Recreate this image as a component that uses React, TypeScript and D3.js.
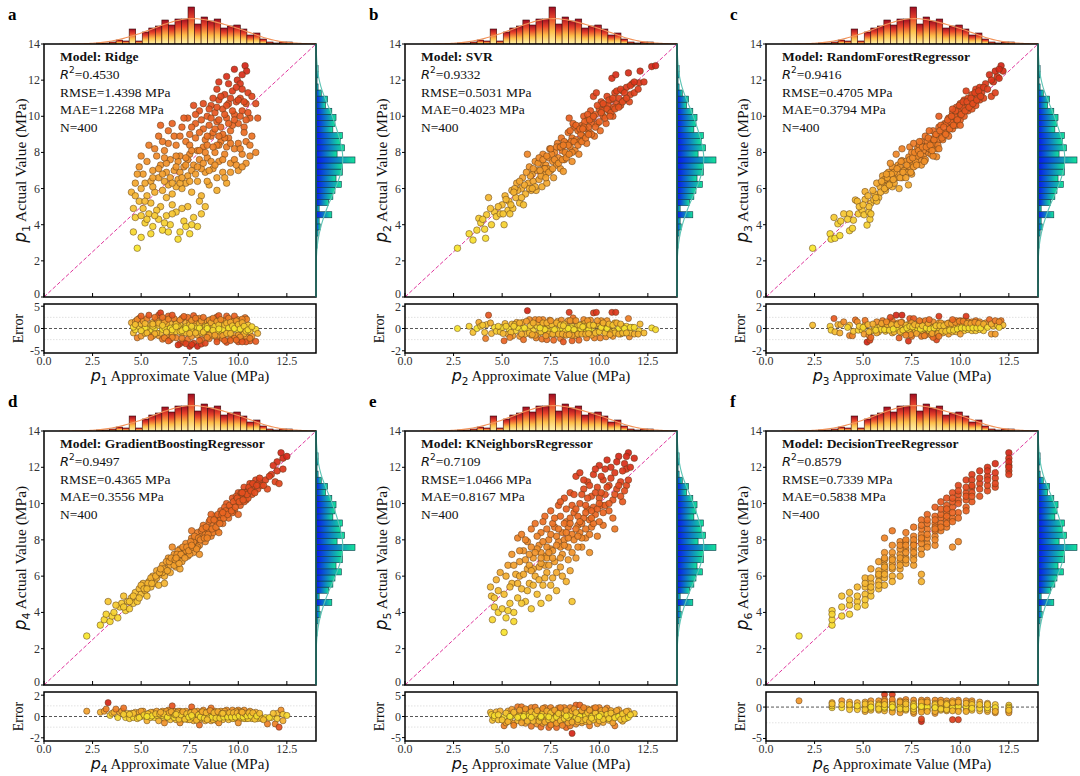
import React from 'react';
import * as d3 from 'd3';

type Pt = [number, number];

// ---------- DATA ----------
const histCounts = [1,1,2,4,3,15,3,12,16,18,24,19,25,25,37,20,27,23,25,16,18,19,15,9,11,5,2,1,2,2];
const histMin = 2.7;
const histMax = 12.8;

const modelNames = ['Ridge','SVR','RandomForestRegressor','GradientBoostingRegressor','KNeighborsRegressor','DecisionTreeRegressor'];
const r2Labels = ['0.4530','0.9332','0.9416','0.9497','0.7109','0.8579'];
const rmseLabels = ['1.4398','0.5031','0.4705','0.4365','1.0466','0.7339'];
const maeLabels = ['1.2268','0.4023','0.3794','0.3556','0.8167','0.5838'];
const nLabel = 'N=400';
const panelLetters = ['a','b','c','d','e','f'];
const mainTicks = [0,2,4,6,8,10,12,14];
const xTicks = [0,2.5,5,7.5,10,12.5];
const errDomains = [[-5.5,5.5],[-2.2,2.2],[-2.2,2.2],[-2.3,2.3],[-5.8,5.8],[-5.4,2.4]];
const errTicks = [[-5,0,5],[-2,0,2],[-2,0,2],[-2,0,2],[-5,0,5],[-5,0]];
const errGrid = [[-2.5,2.5],[-1,1],[-1,1],[-1,1],[-2.5,2.5],[-2.5]];

const ridgePts: Pt[] = [
[4.6,3.6],[4.8,2.7],[4.7,4.4],[5.0,3.3],[5.2,4.1],[5.4,4.6],[5.6,3.9],[5.9,4.3],[6.1,3.7],[6.3,4.5],[6.5,4.0],[6.8,4.7],[7.0,3.6],[7.2,4.2],[7.5,3.5],[7.7,4.4],[7.9,3.9],[8.1,4.6],[6.0,5.0],[5.5,5.2],[6.6,5.1],[7.4,5.0],[5.1,4.9],[4.9,5.3],[6.9,3.2],[8.3,5.0],[5.8,4.8],
[4.5,5.8],[4.7,6.3],[4.9,7.2],[5.0,6.0],[5.1,6.8],[5.3,5.6],[5.3,7.5],[5.5,6.4],[5.6,7.0],[5.7,5.8],[5.8,7.8],[5.9,6.6],[6.0,7.3],[6.1,5.9],[6.2,8.1],[6.3,6.9],[6.4,6.2],[6.5,7.6],[6.6,5.7],[6.7,7.0],[6.8,8.4],[6.9,6.5],[7.0,7.8],[7.1,6.0],[7.2,7.2],[7.3,8.6],[7.4,6.7],[7.5,7.9],[7.6,5.8],[7.7,7.3],[7.8,8.8],[7.9,6.4],[8.0,7.6],[8.1,5.6],[8.2,8.3],[8.3,6.9],[8.4,7.7],[8.5,6.2],[8.6,8.9],[8.7,7.1],[8.8,8.0],[8.9,6.6],[9.0,7.5],[9.1,8.6],[9.2,6.9],[9.3,7.9],[9.4,6.3],[9.6,7.4],[9.8,8.2],[10.0,7.0],[10.2,7.9],[10.4,8.6],[10.6,7.8],[10.9,8.0],[5.4,8.4],[5.9,8.9],[6.4,9.2],[6.0,9.5],[6.7,8.9],[7.1,9.4],[7.5,9.0],
[7.4,9.9],[7.8,9.6],[8.0,10.3],[8.2,9.3],[8.4,10.0],[8.5,9.5],[8.6,10.6],[8.7,9.1],[8.8,10.2],[8.9,9.7],[9.0,10.9],[9.1,9.4],[9.2,10.4],[9.3,11.2],[9.4,9.9],[9.5,10.7],[9.6,9.2],[9.7,11.4],[9.8,10.1],[9.9,10.8],[10.0,9.6],[10.1,11.0],[10.2,10.3],[10.3,9.4],[10.4,10.7],[10.5,11.3],[10.6,9.9],[10.9,10.7],[8.3,8.7],[9.0,8.4],[9.5,8.8],[10.0,8.5],[10.3,9.1],[7.7,10.6],[8.9,11.5],
[9.4,12.2],[9.5,11.8],[9.95,12.0],[10.1,11.8],[10.35,12.8],[10.43,12.5],[9.8,12.6],[10.2,12.3],[9.0,11.9],
[6.2,6.4],[6.8,6.1],[7.3,6.3],[7.6,7.0],[8.1,7.1],[6.5,6.6],[7.0,6.9],[7.9,7.2],[8.6,7.5],[6.3,7.4],[6.9,7.5],[7.4,7.6],[8.3,8.0],[8.9,8.4],[9.3,8.8],[9.7,9.5],[11.0,9.9],[4.6,4.9],[4.8,6.8],
[5.2,5.3],[5.6,6.1],[5.9,7.1],[6.2,7.7],[6.4,8.5],[6.6,9.6],[6.8,7.8],[7.0,8.9],[7.2,9.9],[7.3,7.7],[7.5,8.4],[7.6,9.4],[7.8,10.1],[7.9,8.1],[8.0,9.1],[8.1,9.8],[8.2,10.7],[8.4,8.9],[8.5,10.4],[8.6,9.9],[8.7,11.0],[8.8,9.3],[8.9,10.5],[9.0,9.8],[9.1,11.1],[9.2,9.0],[9.3,10.1],[9.4,10.6],[9.5,9.6],[9.6,11.0],[9.7,10.3],[9.8,9.8],[9.9,11.6],[10.0,10.9],[10.1,10.0],[10.2,11.5],[10.3,10.8],[10.4,9.8],[10.5,10.2],[10.7,11.1],
[6.1,6.8],[6.3,5.5],[6.6,6.3],[6.8,7.2],[7.0,6.3],[7.1,6.6],[7.3,7.3],[7.5,6.4],[7.6,8.1],[7.8,6.8],[8.0,8.1],[8.2,7.4],[8.4,8.4],[8.5,7.0],[8.7,8.3],[8.8,7.3],[9.0,8.9],[9.2,7.6],[9.4,8.3],[9.6,8.5],[9.8,7.6],[10.1,8.2],[10.4,7.4],[10.7,8.9],
[5.3,4.3],[5.7,4.5],[6.2,4.1],[6.6,4.6],[7.1,4.9],[7.6,4.0],[8.0,5.3],[6.4,3.6],[5.5,3.5],[7.3,3.9],[5.0,4.5],[4.7,5.6],[5.2,6.3],[5.6,6.6],[5.0,7.8],[5.7,8.2],[6.1,8.6],[8.4,6.4],[8.9,5.9],[9.3,6.6],[9.6,6.9],[9.9,7.3],[10.2,7.2],[10.6,8.4]
];

const svrPts: Pt[] = [
[2.7,2.7],[3.3,3.5],[3.5,3.15],[3.7,3.7],[3.8,4.35],[3.9,4.1],[4.1,3.75],[4.15,3.25],[4.2,4.55],[4.3,5.5],[4.45,4.0],[4.6,4.7],[4.7,4.45],[4.9,4.6],[5.0,5.1],[5.1,4.0],[5.15,5.6],[5.3,4.8],[5.35,5.3],[5.5,5.9],[5.55,4.9],[5.7,5.5],[5.75,6.3],[5.9,5.2],[6.0,6.0],[6.05,6.6],[6.1,5.1],[6.2,5.7],[6.3,7.9],[6.35,6.3],[6.4,7.2],[6.5,5.9],[6.55,6.8],[6.6,6.4],[6.7,7.5],[6.75,5.9],[6.8,7.0],[6.9,6.5],[7.0,7.4],[7.05,6.1],[7.1,7.9],[7.2,6.8],[7.25,7.3],[7.3,6.3],[7.4,7.7],[7.45,8.2],[7.5,7.0],[7.6,7.5],[7.65,6.6],[7.7,8.0],[7.8,7.3],[7.85,8.5],[7.9,7.7],[8.0,7.1],[8.05,8.8],[8.1,8.1],[8.15,6.95],[8.2,7.6],[8.3,8.5],[8.35,7.9],[8.4,9.1],[8.45,9.9],[8.5,8.3],[8.6,7.5],[8.6,8.8],[8.7,9.4],[8.75,8.1],[8.8,8.7],[8.9,9.2],[8.95,7.9],[9.0,8.6],[9.1,9.5],[9.15,8.9],[9.2,10.0],[9.3,9.3],[9.35,8.5],[9.4,9.8],[9.5,9.1],[9.55,10.3],[9.6,9.6],[9.7,11.1],[9.75,8.9],[9.8,10.1],[9.85,11.3],[9.9,9.6],[10.0,10.4],[10.05,9.2],[10.1,10.8],[10.2,10.0],[10.3,10.6],[10.35,9.6],[10.4,11.1],[10.5,10.3],[10.6,10.9],[10.65,12.1],[10.7,10.0],[10.8,11.3],[10.85,12.3],[10.9,10.7],[11.0,11.0],[11.1,10.6],[11.2,11.4],[11.3,10.9],[11.4,11.6],[11.5,12.4],[11.55,10.8],[11.6,11.2],[11.7,11.8],[11.8,11.3],[12.05,11.85],[12.1,12.5],[12.3,11.9],[12.7,12.75],[12.9,12.8],
[5.8,5.9],[6.15,6.2],[6.45,6.7],[7.15,7.1],[7.55,7.9],[7.95,8.3],[8.25,8.0],[8.55,8.6],[9.05,9.0],[9.45,9.4],[9.65,9.9],[10.15,10.3],[10.45,10.6],[10.75,10.5],[8.65,9.6],[7.35,7.1],[6.85,7.4],[9.25,9.7],[5.45,5.1],[5.65,6.0],
[4.0,4.3],[4.4,4.9],[4.8,5.0],[5.2,5.4],[5.4,4.6],[5.6,5.8],[5.9,6.4],[6.0,5.5],[6.25,6.9],[6.4,6.0],[6.6,7.1],[6.7,6.1],[6.9,7.7],[7.0,6.7],[7.1,7.6],[7.2,7.1],[7.3,7.8],[7.4,6.9],[7.5,8.2],[7.6,7.1],[7.7,7.6],[7.8,8.3],[7.9,7.4],[8.0,8.3],[8.1,7.6],[8.2,8.6],[8.3,7.7],[8.4,8.4],[8.5,9.2],[8.6,8.0],[8.7,8.6],[8.8,9.5],[8.9,8.4],[9.0,9.3],[9.1,8.6],[9.2,9.4],[9.3,8.8],[9.4,10.1],[9.5,9.8],[9.6,9.0],[9.7,10.0],[9.8,9.4],[9.9,10.6],[10.0,9.7],[10.1,10.2],[10.2,10.7],[10.3,9.9],[10.4,10.4],[10.5,10.9],[10.6,10.2],[10.7,11.0],[10.8,10.4],[10.9,11.4],[11.0,10.5],[11.1,11.5],[11.2,10.8],[11.3,11.3],[11.4,11.0],[11.6,11.7],[11.8,11.9],[12.0,11.5],[6.55,6.0],[7.25,6.6],[8.45,7.9],[9.45,9.0],[10.55,10.0],[5.05,4.6],[6.95,7.0],[8.15,8.4],[9.15,9.3]
];

const rfPts: Pt[] = [
[2.4,2.7],[3.3,3.5],[3.35,3.2],[3.55,3.25],[3.8,3.4],[3.5,4.4],[3.7,4.05],[3.85,4.2],[4.0,4.6],[4.3,4.6],[4.3,3.67],[4.45,3.8],[4.5,4.25],[4.6,5.37],[4.7,5.3],[4.75,4.6],[4.95,4.8],[5.05,4.55],[5.3,4.7],[5.2,3.98],[5.35,4.3],[5.4,4.6],[5.1,5.4],[5.1,5.83],[5.4,5.2],[5.55,5.37],[5.6,5.7],[5.8,5.5],[5.87,6.1],[6.05,6.3],[6.15,5.9],[6.3,6.4],[6.5,6.1],[6.7,6.6],[6.85,6.0],[7.33,6.2],[6.6,7.0],[6.8,7.3],[7.0,7.55],[7.15,7.1],[7.35,7.75],[7.5,7.4],[7.7,7.9],[7.9,7.6],[8.1,7.85],[8.35,8.0],[8.78,7.76],
[6.7,7.9],[7.0,8.2],[7.4,8.3],[7.6,8.5],[7.8,8.2],[8.0,8.6],[8.2,8.9],[8.3,8.4],[8.5,8.7],[8.6,9.2],[8.7,8.5],[8.9,9.4],[8.9,10.0],[9.0,9.0],[9.2,9.6],[9.3,9.1],[9.4,9.9],[9.5,9.4],[9.6,10.2],[9.7,9.7],[9.8,10.5],[9.9,10.0],[10.0,10.7],[10.1,10.2],[10.2,10.9],[10.3,11.4],[10.3,10.5],[10.4,11.0],[10.5,10.6],[10.6,11.2],[10.7,10.8],[10.8,11.5],[10.9,11.1],[11.0,11.6],[11.1,11.3],[11.3,11.8],[11.5,12.3],[11.6,11.1],[11.7,11.9],[11.8,11.3],[11.9,12.2],[12.1,12.8],[12.2,12.5],[12.0,12.1],
[5.7,6.3],[5.9,5.8],[6.0,6.7],[6.2,6.1],[6.3,6.9],[6.4,6.5],[6.5,7.2],[6.6,6.3],[6.8,6.8],[6.9,7.2],[7.0,6.6],[7.1,7.0],[7.2,7.5],[7.3,6.9],[7.4,7.2],[7.5,8.0],[7.6,7.2],[7.7,7.5],[7.8,7.8],[7.9,8.4],[8.0,7.3],[8.1,8.1],[8.2,7.6],[8.3,8.6],[8.4,8.2],[8.5,7.9],[8.6,8.4],[8.7,8.9],[8.8,8.2],[8.9,8.7],[9.0,9.5],[9.1,8.7],[9.2,9.1],[9.3,9.6],[9.4,8.9],[9.5,9.7],[9.6,9.3],[9.7,10.0],[9.8,9.5],[9.9,10.3],[10.0,9.8],[10.1,10.5],[10.2,10.0],[10.4,10.3],[10.6,10.4],[10.8,10.6],[11.0,10.9],[11.2,11.0],[5.3,5.0],[5.7,5.3],[6.1,6.5],[6.6,6.9],[7.5,6.8],[8.6,7.8],
[4.2,4.3],[4.8,5.0],[5.0,5.1],[5.25,5.6],[5.5,5.9],[5.65,5.5],[5.95,6.4],[6.1,6.0],[6.25,6.6],[6.35,6.2],[6.45,6.8],[6.55,6.5],[6.75,7.1],[6.9,6.6],[6.95,7.5],[7.05,6.9],[7.25,7.3],[7.4,7.6],[7.45,6.9],[7.55,7.7],[7.65,8.0],[7.75,7.3],[7.85,8.1],[7.95,7.9],[8.05,8.3],[8.15,7.5],[8.25,8.3],[8.35,8.8],[8.45,8.4],[8.55,8.1],[8.65,8.7],[8.75,9.0],[8.85,8.4],[8.95,9.2],[9.05,8.8],[9.15,9.4],[9.25,9.0],[9.35,9.8],[9.45,9.3],[9.55,10.0],[9.65,9.5],[9.75,10.3],[9.85,9.8],[9.95,10.6],[10.05,10.1],[10.15,10.8],[10.25,10.3],[10.35,10.8],[10.45,10.5],[10.55,11.0],[10.65,10.7],[10.75,11.3],[10.85,10.9],[10.95,11.4],[11.05,11.1],[11.2,11.6],[11.4,11.5],[11.6,12.0],[11.8,12.5],[12.0,12.6],[6.4,7.4],[6.2,6.8],[7.9,8.6],[8.4,9.2],[9.6,10.4],[7.2,6.6],[8.9,8.2],[10.0,9.5]
];

const gbPts: Pt[] = [
[2.2,2.7],[2.9,3.3],[3.1,3.6],[3.3,4.6],[3.4,3.5],[3.5,3.8],[3.6,4.0],[3.8,3.7],[3.9,4.3],[4.0,4.5],[4.2,4.1],[4.3,4.6],[4.4,4.2],[4.5,4.8],[4.6,4.5],[4.7,5.1],[4.8,4.6],[4.9,5.3],[5.0,5.0],[5.1,5.6],[5.2,5.2],[5.3,4.9],[5.4,5.7],[5.5,5.4],[5.6,6.0],[5.7,5.6],[5.8,6.3],[5.9,5.5],[6.0,6.1],[6.1,6.6],[6.2,6.0],[6.3,6.4],[6.4,7.0],[6.5,6.2],[6.6,6.8],[6.7,7.2],[6.8,6.5],[6.9,7.0],[7.0,7.5],[7.1,6.8],[7.2,7.3],[7.3,7.8],[7.4,7.1],[7.5,7.6],[7.6,8.1],[7.7,7.3],[7.8,7.8],[7.9,8.4],[8.0,7.7],[8.1,8.2],[8.2,8.8],[8.3,7.9],[8.4,8.5],[8.5,9.0],[8.6,8.2],[8.7,8.8],[8.8,9.3],[8.9,8.5],[9.0,9.1],[9.1,9.6],[9.2,8.9],[9.3,9.4],[9.4,10.0],[9.5,9.2],[9.6,9.8],[9.7,10.3],[9.8,9.6],[9.9,10.1],[10.0,10.6],[10.1,9.9],[10.2,10.4],[10.3,10.9],[10.4,10.2],[10.5,10.7],[10.6,11.1],[10.7,10.5],[10.8,10.9],[10.9,11.3],[11.0,10.8],[11.1,11.2],[11.2,11.0],[11.4,11.3],[11.5,10.8],[11.7,11.6],[11.9,11.2],[12.0,12.3],[12.1,11.1],[12.2,12.8],[12.3,12.5],[12.5,12.6],
[5.5,5.9],[5.8,5.9],[6.1,6.2],[6.3,6.8],[6.5,6.6],[6.7,6.6],[6.9,7.4],[7.1,7.2],[7.3,7.4],[7.5,7.2],[7.7,7.9],[7.9,7.6],[8.1,8.5],[8.3,8.3],[8.5,8.6],[8.7,8.4],[8.9,9.0],[9.1,9.2],[9.3,9.8],[9.5,9.6],[9.7,9.5],[9.9,10.4],[10.1,10.3],[10.3,10.1],[10.5,10.3],[6.2,5.6],[7.0,6.4],[8.0,7.2],[9.0,8.4],[10.0,9.4],[6.6,7.6],[7.6,8.5],[8.6,9.4],[5.0,5.5],[4.1,4.9],[3.2,3.9],
[3.7,4.4],[4.1,4.3],[4.6,4.9],[4.9,4.8],[5.15,5.3],[5.35,5.6],[5.55,5.6],[5.75,6.0],[5.95,6.2],[6.15,6.4],[6.35,6.3],[6.45,6.8],[6.55,7.0],[6.75,6.9],[6.85,7.2],[6.95,6.7],[7.05,7.2],[7.15,7.6],[7.25,7.0],[7.35,7.6],[7.45,7.4],[7.55,7.9],[7.65,7.6],[7.75,8.2],[7.85,7.5],[7.95,8.1],[8.05,8.0],[8.15,8.6],[8.25,8.1],[8.35,8.7],[8.45,8.3],[8.55,9.1],[8.65,8.6],[8.75,9.1],[8.85,8.7],[8.95,9.4],[9.05,8.9],[9.15,9.4],[9.25,9.2],[9.35,9.6],[9.45,9.4],[9.55,9.9],[9.65,9.6],[9.75,10.1],[9.85,9.8],[9.95,10.3],[10.05,10.1],[10.15,10.6],[10.25,10.2],[10.35,10.6],[10.45,10.5],[10.55,10.9],[10.65,10.7],[10.75,11.1],[10.85,10.6],[10.95,11.0],[11.1,11.4],[11.3,11.0],[11.6,11.5],[11.8,12.1],[12.0,11.8],[12.3,11.9],[6.0,6.4],[6.8,7.0],[7.6,7.7],[8.4,8.1],[9.2,9.5],[10.2,10.6],[5.3,5.3],[4.4,4.6]
];

const knnPts: Pt[] = [
[4.4,5.4],[4.45,4.9],[4.5,3.6],[4.6,4.3],[4.7,5.8],[4.8,4.0],[4.9,6.2],[5.1,2.9],[5.1,5.0],[5.2,3.7],[5.3,6.6],[5.4,4.5],[5.5,7.2],[5.5,5.6],[5.6,4.0],[5.7,6.1],[5.8,8.1],[5.8,4.8],[5.9,6.8],[6.0,5.3],[6.0,8.3],[6.1,7.4],[6.2,4.6],[6.3,6.4],[6.3,7.9],[6.4,5.6],[6.5,8.6],[6.5,4.2],[6.6,7.0],[6.7,6.0],[6.7,8.9],[6.8,5.0],[6.9,7.7],[6.9,6.5],[7.0,4.5],[7.0,8.4],[7.1,5.5],[7.2,7.1],[7.2,9.3],[7.3,6.2],[7.4,8.0],[7.4,4.8],[7.5,7.5],[7.5,9.6],[7.6,5.9],[7.7,8.7],[7.7,6.8],[7.8,5.2],[7.9,7.9],[7.9,9.9],[8.0,6.5],[8.1,8.4],[8.1,7.2],[8.2,10.3],[8.3,5.7],[8.3,9.0],[8.4,7.6],[8.5,10.6],[8.5,6.3],[8.6,4.6],[8.6,8.3],[8.7,9.5],[8.8,7.0],[8.8,11.5],[8.9,8.8],[9.0,11.7],[9.0,10.0],[9.1,7.6],[9.2,9.2],[9.2,10.8],[9.3,8.1],[9.4,11.2],[9.4,9.7],[9.5,7.3],[9.6,10.4],[9.6,8.7],[9.7,11.6],[9.8,9.4],[9.9,10.9],[9.9,8.2],[10.0,12.1],[10.1,9.9],[10.2,11.3],[10.2,8.8],[10.3,10.5],[10.4,12.4],[10.5,9.6],[10.5,11.0],[10.6,12.0],[10.7,10.2],[10.8,8.6],[10.8,11.7],[10.9,10.8],[11.0,12.6],[11.1,11.2],[11.2,10.1],[11.3,12.2],[11.4,11.9],[11.4,11.0],[11.5,12.8],[11.8,12.5],
[6.2,6.9],[6.6,6.4],[7.0,7.3],[7.3,7.0],[7.6,7.4],[7.8,8.2],[8.0,7.6],[8.2,8.0],[8.4,8.7],[8.7,8.0],[8.9,9.3],[9.1,8.9],[9.3,9.9],[9.5,9.1],[9.7,9.8],[10.0,10.3],[10.3,9.9],[6.8,7.5],[7.2,6.6],[8.5,9.2],[9.0,8.4],[5.9,6.0],[6.4,7.2],[7.6,8.9],[8.0,9.3],
[4.6,4.8],[4.8,5.2],[5.0,4.2],[5.2,6.0],[5.3,4.1],[5.4,5.4],[5.6,6.6],[5.6,3.5],[5.8,5.6],[5.9,7.4],[6.0,4.5],[6.1,6.1],[6.2,8.0],[6.3,5.2],[6.4,6.6],[6.5,7.6],[6.6,5.5],[6.7,7.3],[6.8,8.2],[6.9,5.8],[7.0,6.7],[7.1,7.9],[7.1,9.0],[7.2,5.9],[7.3,7.6],[7.3,8.6],[7.4,6.6],[7.5,5.5],[7.5,8.3],[7.6,7.0],[7.7,9.2],[7.8,6.2],[7.8,7.7],[7.9,8.6],[8.0,7.0],[8.0,10.1],[8.1,6.0],[8.2,8.9],[8.2,7.7],[8.3,9.7],[8.4,6.9],[8.4,8.1],[8.5,8.9],[8.6,9.9],[8.6,7.3],[8.7,10.5],[8.8,8.6],[8.8,9.7],[8.9,7.6],[9.0,9.0],[9.1,10.5],[9.1,8.1],[9.2,11.3],[9.3,9.5],[9.3,8.6],[9.4,10.3],[9.5,8.3],[9.5,11.0],[9.6,9.6],[9.7,8.9],[9.8,10.6],[9.8,11.9],[9.9,9.7],[10.0,9.0],[10.1,11.5],[10.1,10.6],[10.2,9.5],[10.3,11.9],[10.4,10.9],[10.5,10.0],[10.6,11.4],[10.7,9.2],[10.8,10.5],[10.9,12.3],[11.0,11.0],[11.1,10.4],[11.2,11.8],[11.3,10.7],[11.4,12.6],[11.5,11.3],[11.6,12.0],[6.5,6.3],[7.0,7.0],[7.4,7.3],[8.3,8.4],[8.9,8.2],[9.6,9.2],[10.0,10.0]
];

const dtPts: Pt[] = [
[1.7,2.7],[3.4,3.3],[3.4,3.6],[3.4,4.1],[3.9,4.9],[3.9,3.8],[4.3,4.4],[4.3,3.9],[4.3,5.1],[4.7,4.6],[4.7,4.3],[4.7,5.4],[5.1,5.0],[5.1,5.9],[5.1,4.4],[5.4,5.6],[5.4,6.4],[5.4,4.9],[5.4,5.2],[5.8,6.0],[5.8,5.3],[5.8,6.8],[5.8,5.7],[6.1,6.3],[6.1,8.1],[6.1,5.5],[6.1,6.9],[6.1,5.9],[6.5,6.7],[6.5,8.5],[6.5,6.0],[6.5,7.3],[6.5,5.7],[6.9,7.2],[6.9,6.4],[6.9,7.9],[6.9,6.8],[7.2,7.5],[7.2,6.7],[7.2,8.4],[7.2,7.0],[7.6,7.8],[7.6,7.1],[7.6,8.7],[7.6,6.6],[7.6,8.2],[8.0,8.3],[8.0,5.7],[8.0,6.1],[8.0,7.5],[8.0,9.1],[8.0,8.0],[8.3,8.6],[8.3,7.8],[8.3,9.4],[8.3,8.1],[8.7,8.9],[8.7,8.2],[8.7,9.8],[8.7,7.7],[9.0,9.2],[9.0,8.5],[9.0,10.1],[9.3,9.5],[9.3,8.7],[9.3,10.3],[9.6,9.8],[9.6,7.6],[9.6,9.2],[9.6,10.6],[9.9,10.2],[9.9,7.9],[9.9,9.5],[9.9,11.0],[10.3,10.6],[10.3,9.8],[10.3,11.3],[10.6,10.9],[10.6,10.1],[10.6,11.6],[11.0,11.1],[11.0,10.4],[11.0,11.8],[11.4,11.5],[11.4,10.7],[11.4,12.0],[11.4,11.0],[11.8,11.4],[11.8,12.2],[11.8,10.9],[12.5,12.8],[12.5,12.1],[12.5,11.8],[12.5,12.5],[12.5,11.6],
[5.1,5.4],[5.8,6.3],[6.1,6.6],[6.5,7.0],[6.9,7.5],[7.2,7.9],[7.6,7.5],[8.0,8.6],[8.3,8.9],[8.7,8.5],[9.0,8.9],[9.3,9.1],[9.6,10.1],[9.9,10.5],[10.3,10.2],[6.1,7.3],[6.9,6.0],[7.6,6.9],[8.7,9.3],[10.6,11.3],
[3.4,3.9],[3.9,4.3],[4.3,4.7],[4.7,4.9],[5.1,4.7],[5.1,5.6],[5.4,5.9],[5.4,5.4],[5.8,6.1],[5.8,5.5],[6.1,6.1],[6.1,7.0],[6.5,6.4],[6.5,7.7],[6.5,6.9],[6.9,7.0],[6.9,7.7],[6.9,6.6],[7.2,7.3],[7.2,8.0],[7.2,6.9],[7.6,7.3],[7.6,8.0],[7.6,7.7],[8.0,7.8],[8.0,8.8],[8.0,7.2],[8.3,8.3],[8.3,9.1],[8.3,7.6],[8.7,8.7],[8.7,9.1],[8.7,8.0],[9.0,9.4],[9.0,8.7],[9.0,9.7],[9.3,9.3],[9.3,9.9],[9.3,8.9],[9.6,9.5],[9.6,10.3],[9.6,9.0],[9.9,10.0],[9.9,9.2],[9.9,10.7],[10.3,10.4],[10.3,10.9],[10.3,9.6],[10.6,10.6],[10.6,11.0],[10.6,10.4],[11.0,10.8],[11.0,11.4],[11.4,11.3],[11.4,11.8],[11.8,11.7],[11.8,11.1],[12.5,12.3],[12.5,12.0],[6.1,6.5],[6.5,6.5],[7.2,7.7],[8.0,8.1],[8.7,8.6],[9.3,9.7]
];

const panelPoints: Pt[][] = [ridgePts, svrPts, rfPts, gbPts, knnPts, dtPts];

// ---------- LAYOUT ----------
const colLeft = [44, 405, 766];
const rowTop = [44, 431];
const mainW = 272;
const mainH = [253, 254];
const errTop = [304, 692];
const errH = 49;

const serif = '"Liberation Serif", "Times New Roman", serif';
const mathFont = '"DejaVu Sans", sans-serif';

const interp = d3.interpolateRgbBasis(['#f6e62b', '#f5bd33', '#f08a25', '#e85320', '#d42316']);
const ptColor = d3.scaleSequential(interp).domain([histMin, histMax]);

const binW = (histMax - histMin) / histCounts.length;
const bw = 0.8;
function kde(v: number) {
  let s = 0;
  histCounts.forEach((c, k) => {
    const m = histMin + (k + 0.5) * binW;
    const z = (v - m) / bw;
    s += c * Math.exp(-0.5 * z * z) / (bw * Math.sqrt(2 * Math.PI));
  });
  return s * binW;
}
const kdeGrid = d3.range(0.8, 14.001, 0.1);

function Panel({ i }: { i: number }) {
  const col = i % 3;
  const row = Math.floor(i / 3);
  const L = colLeft[col];
  const T = rowTop[row];
  const H = mainH[row];
  const ET = errTop[row];
  const pts = panelPoints[i];
  const x = d3.scaleLinear().domain([0, 14]).range([L, L + mainW]);
  const y = d3.scaleLinear().domain([0, 14]).range([T + H, T]);
  const ey = d3.scaleLinear().domain(errDomains[i]).range([ET + errH, ET]);
  const hTop = d3.scaleLinear().domain([0, 37]).range([0, 37]);
  const hRight = d3.scaleLinear().domain([0, 37]).range([0, 39]);
  const errs = pts.map(p => p[1] - p[0]);
  const maxAbs = d3.max(errs.map(Math.abs)) || 1;
  const errColor = d3.scaleSequential(interp).domain([0, maxAbs]);
  const topLine = d3.line<number>().x(v => x(v)).y(v => T - hTop(kde(v)))(kdeGrid) || '';
  const rightLine = d3.line<number>().x(v => L + mainW + hRight(kde(v))).y(v => y(v))(kdeGrid) || '';
  const tx = L + 16;
  const ty = T + 17;
  const lh = 17.8;
  const sub = String(i + 1);
  const tickFs = 12;

  return (
    <g>
      <text x={L - 36} y={T - 24} fontFamily={serif} fontWeight="bold" fontSize={17} fill="#000">{panelLetters[i]}</text>

      {histCounts.map((c, k) => {
        const x0 = x(histMin + k * binW);
        const x1 = x(histMin + (k + 1) * binW);
        const h = hTop(c);
        return <rect key={'t' + k} x={x0} y={T - h} width={x1 - x0} height={h} fill="url(#gradTop)" stroke="#3a0a0a" strokeWidth={0.6} />;
      })}
      <path d={topLine} fill="none" stroke="#f2945a" strokeWidth={1.1} />

      {histCounts.map((c, k) => {
        const y0 = y(histMin + (k + 1) * binW);
        const y1 = y(histMin + k * binW);
        const w = hRight(c);
        return <rect key={'r' + k} x={L + mainW} y={y0} width={w} height={y1 - y0} fill="url(#gradRight)" stroke="#0b3b4a" strokeWidth={0.6} />;
      })}
      <path d={rightLine} fill="none" stroke="#5cc4b4" strokeWidth={1.1} />

      <rect x={L} y={T} width={mainW} height={H} fill="#fff" />
      <line x1={x(0)} y1={y(0)} x2={x(14)} y2={y(14)} stroke="#e0359c" strokeWidth={1} strokeDasharray="4,2" />
      {pts.map((p, k) => (
        <circle key={'p' + k} cx={x(p[0])} cy={y(p[1])} r={3.3} fill={ptColor(p[1])} fillOpacity={0.92} stroke="#5a3a1a" strokeWidth={0.5} />
      ))}
      <rect x={L} y={T} width={mainW} height={H} fill="none" stroke="#000" strokeWidth={1.5} />
      <line x1={L + mainW} y1={T} x2={L + mainW} y2={T + H} stroke="#1f6f66" strokeWidth={1.5} />

      {mainTicks.map(t => (
        <g key={'yt' + t}>
          <line x1={L - 3} x2={L} y1={y(t)} y2={y(t)} stroke="#000" strokeWidth={1} />
          <text x={L - 4} y={y(t) + (t === 0 ? 1 : 4)} textAnchor="end" fontFamily={serif} fontSize={tickFs} fill="#333">{t}</text>
        </g>
      ))}
      {xTicks.map(t => (
        <line key={'xt' + t} x1={x(t)} x2={x(t)} y1={T + H} y2={T + H - 4} stroke="#000" strokeWidth={1} />
      ))}

      <text x={tx} y={ty} fontFamily={serif} fontSize={13.5} fontWeight="bold" fill="#111">Model: {modelNames[i]}</text>
      <text x={tx} y={ty + lh} fontFamily={serif} fontSize={13.5} fill="#111">
        <tspan fontFamily={mathFont} fontStyle="italic" fontSize={13}>R</tspan>
        <tspan fontFamily={mathFont} fontSize={9} dy={-6}>2</tspan>
        <tspan dy={6}>={r2Labels[i]}</tspan>
      </text>
      <text x={tx} y={ty + 2 * lh} fontFamily={serif} fontSize={13.5} fill="#111">RMSE={rmseLabels[i]} MPa</text>
      <text x={tx} y={ty + 3 * lh} fontFamily={serif} fontSize={13.5} fill="#111">MAE={maeLabels[i]} MPa</text>
      <text x={tx} y={ty + 4 * lh} fontFamily={serif} fontSize={13.5} fill="#111">{nLabel}</text>

      <text transform={`translate(${L - 18},${T + H / 2}) rotate(-90)`} textAnchor="middle" fontFamily={serif} fontSize={15.5} fill="#111">
        <tspan fontFamily={mathFont} fontStyle="italic" fontSize={17}>p</tspan>
        <tspan fontFamily={mathFont} fontSize={11} dy={4}>{sub}</tspan>
        <tspan dy={-4}> Actual Value (MPa)</tspan>
      </text>

      <rect x={L} y={ET} width={mainW} height={errH} fill="#fff" />
      {errGrid[i].map(g => (
        <line key={'g' + g} x1={L} x2={L + mainW} y1={ey(g)} y2={ey(g)} stroke="#d4d4d4" strokeWidth={0.7} strokeDasharray="1.5,1.5" />
      ))}
      <line x1={L} x2={L + mainW} y1={ey(0)} y2={ey(0)} stroke="#444" strokeWidth={0.9} strokeDasharray="3,2" />
      {pts.map((p, k) => (
        <circle key={'e' + k} cx={x(p[0])} cy={ey(errs[k])} r={3.1} fill={errColor(Math.abs(errs[k]))} fillOpacity={0.92} stroke="#5a3a1a" strokeWidth={0.5} />
      ))}
      <rect x={L} y={ET} width={mainW} height={errH} fill="none" stroke="#000" strokeWidth={1.5} />
      {errTicks[i].map((t, j) => (
        <g key={'et' + t}>
          <line x1={L - 3} x2={L} y1={ey(t)} y2={ey(t)} stroke="#000" strokeWidth={1} />
          <text x={L - 4} y={ey(t) + (j === errTicks[i].length - 1 ? 5 : 4)} textAnchor="end" fontFamily={serif} fontSize={tickFs} fill="#333">{t < 0 ? '-' + Math.abs(t) : t}</text>
        </g>
      ))}
      {xTicks.map(t => (
        <g key={'ext' + t}>
          <line x1={x(t)} x2={x(t)} y1={ET + errH} y2={ET + errH + 3} stroke="#000" strokeWidth={1} />
          <text x={x(t)} y={ET + errH + 12} textAnchor="middle" fontFamily={serif} fontSize={tickFs} fill="#333">{t.toFixed(1)}</text>
        </g>
      ))}
      <text transform={`translate(${L - 21},${ET + errH / 2}) rotate(-90)`} textAnchor="middle" fontFamily={serif} fontSize={14} fill="#111">Error</text>

      <text x={L + mainW / 2} y={ET + errH + 28} textAnchor="middle" fontFamily={serif} fontSize={15} fill="#111">
        <tspan fontFamily={mathFont} fontStyle="italic" fontSize={16}>p</tspan>
        <tspan fontFamily={mathFont} fontSize={10.5} dy={3.5}>{sub}</tspan>
        <tspan dy={-3.5}> Approximate Value (MPa)</tspan>
      </text>
    </g>
  );
}

export default function App() {
  return (
    <svg width={1080} height={776} viewBox="0 0 1080 776" style={{ position: 'absolute', left: 0, top: 0, background: '#fff' }}>
      <defs>
        <linearGradient id="gradTop" x1="0" y1="1" x2="0" y2="0">
          <stop offset="0" stopColor="#fff5b0" />
          <stop offset="0.35" stopColor="#fdbf4a" />
          <stop offset="0.7" stopColor="#e8442a" />
          <stop offset="1" stopColor="#a00c22" />
        </linearGradient>
        <linearGradient id="gradRight" x1="0" y1="0" x2="1" y2="0">
          <stop offset="0" stopColor="#0614f0" />
          <stop offset="1" stopColor="#14e39a" />
        </linearGradient>
      </defs>
      <rect x={0} y={0} width={1080} height={776} fill="#fff" />
      {[0, 1, 2, 3, 4, 5].map(i => <Panel key={i} i={i} />)}
    </svg>
  );
}
